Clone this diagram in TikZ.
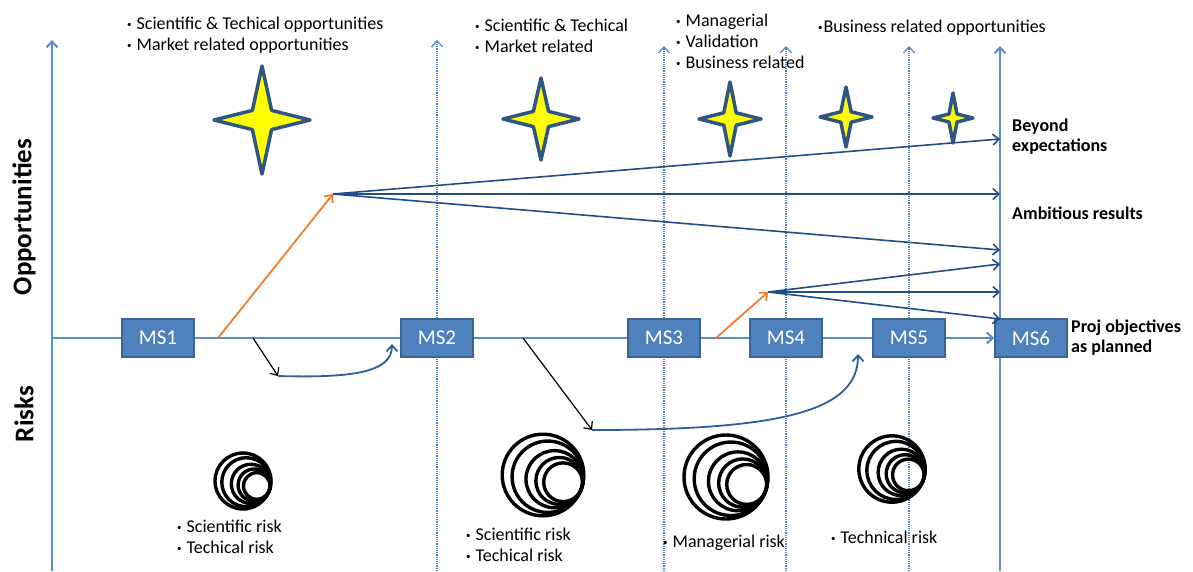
\documentclass[tikz,border=0pt]{standalone}
\usepackage{fontspec}
\setmainfont{Carlito}
\usetikzlibrary{arrows.meta, backgrounds}

\definecolor{axisblue}{HTML}{5C8DCB}
\definecolor{boxblue}{HTML}{4F81BD}
\definecolor{boxedge}{HTML}{3A6591}
\definecolor{fanblue}{HTML}{224E85}
\definecolor{riskblue}{HTML}{2D5F9A}
\definecolor{oppyellow}{HTML}{FFFF00}
\definecolor{starblue}{HTML}{2F5583}
\definecolor{riseorange}{HTML}{F47C2C}

\newcommand{\bul}{\raisebox{2pt}{\fontsize{9}{9}\selectfont\textbullet}\hspace{5pt}}
\newcommand{\bulx}{\raisebox{2pt}{\fontsize{9}{9}\selectfont\textbullet}\hspace{1pt}}

% four-point star: centre x, centre y, half width, half height
\newcommand{\oppstar}[4]{%
  \filldraw[starshape, shift={(#1,#2)}] (0,-#4) -- (0.2*#3,-0.2*#3) -- (#3,0) -- (0.2*#3,0.2*#3)
    -- (0,#4) -- (-0.2*#3,0.2*#3) -- (-#3,0) -- (-0.2*#3,-0.2*#3) -- cycle;}

% nested rings: centre x, centre y, scale
\newcommand{\riskicon}[3]{%
  \begin{scope}[shift={(#1,#2)}, scale=#3]
    \foreach \r/\dx/\dy in {40/0/0, 35/4.7/1.7, 28/11.3/4.1, 23/16/5.8, 19/19.7/7.1}
      \draw[riskring] (\dx,\dy) circle (\r);
  \end{scope}}

\tikzset{
  tipbarb/.style={-{Straight Barb[length=6pt, width=11pt]}},
  msbox/.style={draw=boxedge, line width=1.5pt, fill=boxblue, minimum width=72pt,
    minimum height=38pt, inner sep=0pt, text=white, font=\fontsize{21}{21}\selectfont},
  axisline/.style={draw=axisblue, line width=2pt},
  gridline/.style={draw=boxblue, line width=1.2pt, densely dotted},
  fanarrow/.style={draw=fanblue, line width=1.6pt, tipbarb},
  risearrow/.style={draw=riseorange, line width=1.8pt, tipbarb},
  dropline/.style={draw=black, line width=1.2pt, tipbarb},
  recovery/.style={draw=riskblue, line width=1.8pt, tipbarb},
  starshape/.style={fill=oppyellow, draw=starblue, line width=3.5pt, line join=round},
  riskring/.style={draw=black, line width=3.4pt},
  bullets/.style={align=left, inner sep=0pt, anchor=west, font=\fontsize{18}{21}\selectfont},
  outcome/.style={align=left, inner sep=0pt, anchor=west, font=\bfseries\fontsize{18}{20}\selectfont},
  axislabel/.style={rotate=90, inner sep=0pt, font=\bfseries\fontsize{27}{27}\selectfont}
}

\begin{document}
\begin{tikzpicture}[x=1pt, y=-1pt]
    \useasboundingbox (0,0) rectangle (1193,571);

    \coordinate (o) at (52,338);
    \coordinate (rax) at (1000,338);
    \coordinate (bot) at (0,571);
    \coordinate (topa) at (0,40);
    \coordinate (topb) at (0,46);

    % milestones
    \node[msbox] (ms1) at (158,338) {MS1};
    \node[msbox] (ms2) at (437,338) {MS2};
    \node[msbox] (ms3) at (664,338) {MS3};
    \node[msbox] (ms4) at (786,338) {MS4};
    \node[msbox] (ms5) at (909,338) {MS5};
    \node[msbox] (ms6) at (1031,338) {MS6};

    % axes
    \begin{scope}[on background layer]
        \draw[gridline, tipbarb] (ms2 |- bot) -- (ms2 |- topa);
        \draw[gridline, tipbarb] (ms3 |- bot) -- (ms3 |- topb);
        \draw[gridline, tipbarb] (ms4 |- bot) -- (ms4 |- topb);
        \draw[gridline, tipbarb] (ms5 |- bot) -- (ms5 |- topb);
        \draw[axisline, tipbarb] (o |- bot) -- (o |- topa);
        \draw[axisline, tipbarb] (rax |- bot) -- (rax |- topb);
    \end{scope}

    \draw[axisline] (o) -- (ms1);
    \draw[axisline] (ms1) -- (ms2);
    \draw[axisline] (ms2) -- (ms3);
    \draw[axisline] (ms3) -- (ms4);
    \draw[axisline] (ms4) -- (ms5);
    \draw[axisline, tipbarb] (ms5) -- (ms6);

    \node[axislabel] (opplabel) at (24,217) {Opportunities};
    \node[axislabel] (risklabel) at (24,414) {Risks};

    % opportunities
    \coordinate (rise1) at (218,338);
    \coordinate (peak1) at (333,194);
    \coordinate (rise2) at (716,338);
    \coordinate (peak2) at (768,292);
    \coordinate (end1) at (1000,139);
    \coordinate (end2) at (1000,194);
    \coordinate (end3) at (1000,250);
    \coordinate (end4) at (1000,264);
    \coordinate (end5) at (1000,292);
    \coordinate (end6) at (1000,319);

    \draw[risearrow] (rise1) -- (peak1);
    \draw[risearrow] (rise2) -- (peak2);
    \draw[fanarrow] (peak1) -- (end1);
    \draw[fanarrow] (peak1) -- (end2);
    \draw[fanarrow] (peak1) -- (end3);
    \draw[fanarrow] (peak2) -- (end4);
    \draw[fanarrow] (peak2) -- (end5);
    \draw[fanarrow] (peak2) -- (end6);

    % risks
    \coordinate (drop1) at (253,338);
    \coordinate (low1) at (278,376);
    \coordinate (back1) at (392,344);
    \coordinate (drop2) at (523,338);
    \coordinate (low2) at (592,430);
    \coordinate (back2) at (858,354);

    \draw[dropline] (drop1) -- (low1);
    \draw[recovery] (low1) .. controls (350,378) and (392,373) .. (back1);
    \draw[dropline] (drop2) -- (low2);
    \draw[recovery] (low2) .. controls (780,430) and (858,412) .. (back2);

    \oppstar{262}{120}{48}{54}
    \oppstar{541}{119}{38}{41}
    \oppstar{730}{119}{31}{37}
    \oppstar{846}{117}{26}{30}
    \oppstar{953}{118}{20}{25}

    \riskicon{243}{481}{0.7}
    \riskicon{543}{475}{1.02}
    \riskicon{726}{477}{1.05}
    \riskicon{892}{469}{0.83}

    % texts
    \node[bullets] (oppnote1) at (127,35.5) {\bul Scientific \& Techical opportunities\\\bul Market related opportunities};
    \node[bullets] (oppnote2) at (475,35.5) {\bul Scientific \& Techical\\\bul Market related};
    \node[bullets] (oppnote3) at (676,41.5) {\bul Managerial\\\bul Validation\\\bul Business related};
    \node[bullets] (oppnote4) at (818,28) {\bulx Business related opportunities};

    \node[outcome] (beyond) at (1012,137) {Beyond\\expectations};
    \node[outcome] (ambitious) at (1012,213) {Ambitious results};
    \node[outcome] (planned) at (1071,337.5) {Proj objectives\\as planned};

    \node[bullets] (risknote1) at (177,536.5) {\bul Scientific risk\\\bul Techical risk};
    \node[bullets] (risknote2) at (466,544.5) {\bul Scientific risk\\\bul Techical risk};
    \node[bullets] (risknote3) at (663,543) {\bul Managerial risk};
    \node[bullets] (risknote4) at (831,537) {\bul Technical risk};
\end{tikzpicture}
\end{document}
